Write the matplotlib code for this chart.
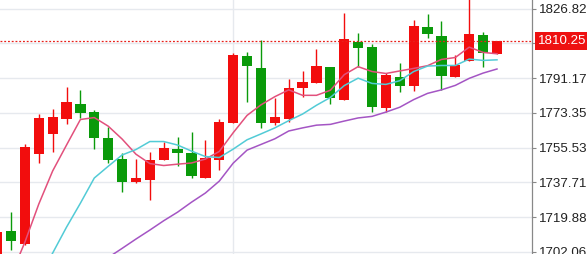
#! /usr/bin/env python3

import numpy as np
import matplotlib.pyplot as plt

nan = np.nan

# daily candles (oldest first)
opens = [1696.0, 1712.8, 1706.2, 1752.3, 1762.6, 1770.2, 1777.9, 1773.8, 1760.5, 1749.7,
         1738.0, 1739.0, 1749.2, 1754.9, 1752.8, 1740.0, 1749.2, 1768.2, 1802.5, 1796.4,
         1768.2, 1770.2, 1786.1, 1788.7, 1796.9, 1780.0, 1809.7, 1807.2, 1775.9, 1791.8,
         1787.2, 1817.4, 1812.8, 1791.8, 1800.0, 1813.3, 1803.6]
highs = [1713.5, 1722.6, 1757.5, 1772.8, 1775.4, 1786.7, 1785.1, 1774.9, 1766.2, 1752.8,
         1749.7, 1753.3, 1758.5, 1761.0, 1763.6, 1759.5, 1770.3, 1804.1, 1804.6, 1810.8,
         1781.0, 1790.8, 1794.9, 1806.1, 1796.9, 1824.6, 1814.4, 1808.7, 1793.8, 1798.9,
         1821.0, 1824.1, 1820.5, 1803.1, 1835.0, 1814.9, 1810.25]
lows = [1694.0, 1703.1, 1705.5, 1747.7, 1753.3, 1767.7, 1770.8, 1754.9, 1747.7, 1732.8,
        1737.5, 1728.7, 1749.2, 1746.1, 1740.0, 1740.0, 1744.1, 1768.2, 1779.0, 1765.7,
        1767.2, 1768.7, 1781.5, 1788.7, 1778.0, 1780.0, 1796.9, 1773.8, 1773.8, 1784.1,
        1784.6, 1811.8, 1785.1, 1791.8, 1800.0, 1796.9, 1803.6]
closes = [1712.3, 1707.7, 1755.9, 1770.8, 1771.3, 1778.9, 1773.3, 1760.5, 1749.2, 1738.0,
          1740.0, 1749.2, 1755.4, 1752.8, 1741.0, 1750.2, 1768.7, 1803.1, 1797.4, 1768.2,
          1771.3, 1786.1, 1789.2, 1797.4, 1781.0, 1811.3, 1806.7, 1776.4, 1792.8, 1787.2,
          1817.9, 1813.8, 1792.3, 1797.9, 1813.8, 1804.1, 1810.25]

ma5 = [nan, 1690.0, 1707.1, 1726.6, 1743.6, 1756.9, 1770.0, 1771.0, 1766.6, 1760.0,
       1752.2, 1747.4, 1746.4, 1747.1, 1747.7, 1749.7, 1753.6, 1763.2, 1772.1, 1777.5,
       1781.7, 1785.2, 1782.4, 1782.4, 1785.0, 1793.0, 1797.1, 1794.6, 1793.6, 1794.9,
       1796.2, 1797.6, 1800.8, 1801.8, 1807.1, 1804.4, 1803.7]
ma10 = [nan, nan, nan, 1688.0, 1701.5, 1714.8, 1727.1, 1740.0, 1746.0, 1751.8,
        1754.6, 1758.7, 1758.7, 1756.9, 1753.8, 1751.0, 1750.5, 1754.8, 1759.6, 1762.6,
        1765.7, 1769.4, 1772.8, 1777.3, 1781.3, 1787.4, 1791.2, 1788.5, 1788.0, 1789.9,
        1794.6, 1797.4, 1797.7, 1797.7, 1801.0, 1800.3, 1800.6]
ma20 = [nan, nan, nan, nan, nan, nan, nan, nan, 1699.2, 1703.9,
        1708.7, 1713.3, 1718.1, 1722.5, 1727.6, 1732.3, 1738.4, 1747.6, 1754.3, 1757.2,
        1760.1, 1764.1, 1765.7, 1767.1, 1767.5, 1769.2, 1770.8, 1771.6, 1773.8, 1776.3,
        1780.2, 1783.4, 1785.2, 1787.5, 1791.1, 1793.8, 1795.9]

last_price = 1810.25
yticks = [1826.82, 1809.00, 1791.17, 1773.35, 1755.53, 1737.71, 1719.88, 1702.06]
ytick_labels = ["1826.82", "", "1791.17", "1773.35", "1755.53", "1737.71", "1719.88", "1702.06"]

UP = "#f20d0d"
DOWN = "#0a9a0a"

plt.rcParams['font.family'] = ['Liberation Sans', 'DejaVu Sans']

fig = plt.figure(figsize=(5.87, 2.54), dpi=100)
ax = fig.add_axes([0, 0, 531.5/587, 1])

x = np.arange(len(closes))
o = np.array(opens)
c = np.array(closes)
cols = [UP if cc >= oo else DOWN for oo, cc in zip(o, c)]

ax.vlines(x, lows, highs, colors=cols, lw=1.0, zorder=3)
body = np.maximum(np.abs(c - o), 0.4)
ax.bar(x, body, bottom=np.minimum(o, c), width=0.74, color=cols, zorder=3)

ax.plot(x, ma5, color="#e2507c", lw=1.1, zorder=4)
ax.plot(x, ma10, color="#52cbd6", lw=1.1, zorder=4)
ax.plot(x, ma20, color="#a455c4", lw=1.1, zorder=4)

ax.axhline(last_price, color="#e8201a", lw=0.9, ls=(0, (1.5, 1.5)), zorder=5)

ax.set_xlim(0.209, 38.485)
ax.set_ylim(1701.03, 1831.28)

ax.set_xticks([17])
ax.tick_params(axis='x', length=0, labelbottom=False)
ax.grid(True, color="#e6e9ee", lw=1.0, zorder=0)
ax.set_axisbelow(True)

ax.yaxis.tick_right()
ax.set_yticks(yticks)
ax.set_yticklabels(ytick_labels)
ax.tick_params(axis='y', direction='out', length=2.6, width=0.8, color="#888888",
               pad=2.8, labelsize=9.6, labelcolor="#222222")
for s in ['top', 'left', 'bottom']:
    ax.spines[s].set_visible(False)
ax.spines['right'].set_color("#888888")
ax.spines['right'].set_linewidth(0.9)

ax.annotate(f"{last_price:.2f}", xy=(1, last_price), xycoords=('axes fraction', 'data'),
            xytext=(5.0, 0), textcoords='offset points', ha='left', va='center',
            fontsize=9.6, color="white", annotation_clip=False, zorder=10,
            bbox=dict(boxstyle="square,pad=0.25", fc="#ee1111", ec="none"))

fig.savefig("out.png", dpi=100)
